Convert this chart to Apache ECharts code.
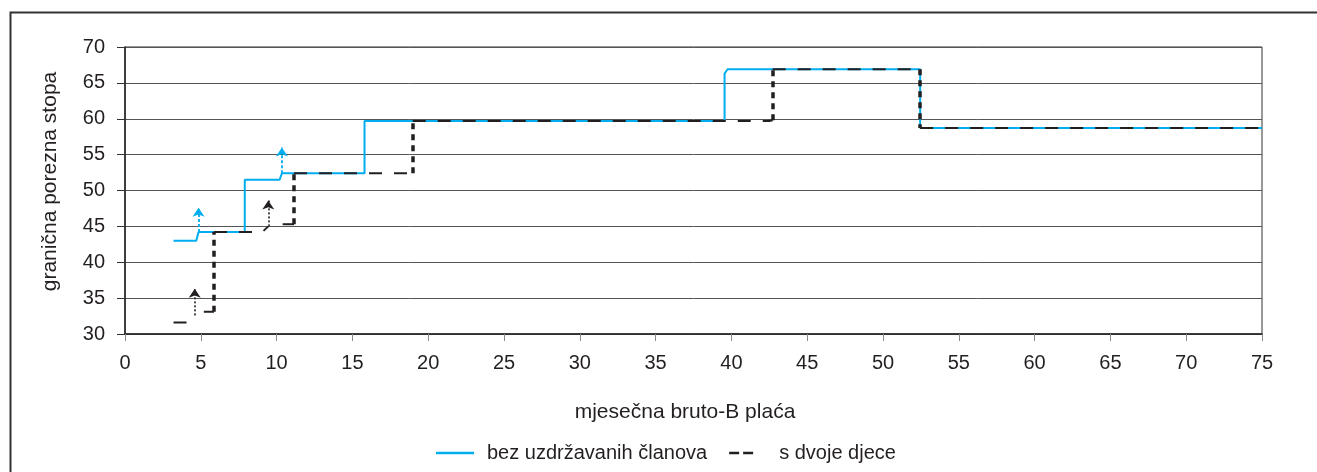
<!DOCTYPE html>
<html><head><meta charset="utf-8">
<script src="https://cdn.jsdelivr.net/npm/echarts@6/dist/echarts.min.js"></script>
<style>html,body{margin:0;padding:0;background:#fff}#c{width:1317px;height:472px}</style>
</head><body><div id="c"></div>
<script>
// ---- data ----
const blueName = 'bez uzdržavanih članova';
const kidsName = 's dvoje djece';
const xAxisName = 'mjesečna bruto-B plaća';
const yAxisName = 'granična porezna stopa';

// bez uzdržavanih članova (step line)
const blueX = [3.2, 4.7, 4.85, 7.9, 7.9, 10.2, 10.35, 15.8, 15.8, 39.55, 39.55, 39.75, 52.45, 52.45, 75];
const blueY = [43.0, 43.0, 44.2, 44.2, 51.5, 51.5, 52.4, 52.4, 59.7, 59.7, 66.3, 66.9, 66.9, 58.7, 58.7];

// s dvoje djece: flat (dashed) pieces
const kidsFlatX = [[3.2, 4.3, 4.6], [5.2, 5.87], [5.87, 9.05, 9.45], [10.4, 11.15], [11.15, 18.98], [18.98, 42.5, 42.72], [42.72, 52.45], [52.45, 75]];
const kidsFlatY = [[31.6, 31.6, 32.6], [33.1, 33.1], [44.2, 44.2, 45.0], [45.3, 45.3], [52.4, 52.4], [59.7, 59.7, 59.8], [66.9, 66.9], [58.7, 58.7]];

// s dvoje djece: vertical jumps (thick dotted)
const jumpX = [5.87, 11.15, 18.98, 42.72, 52.45];
const jumpFromY = [33.1, 45.3, 52.4, 59.8, 66.9];
const jumpToY = [44.2, 52.4, 59.7, 66.9, 58.7];

// arrows
const kidsArrowX = [4.6, 9.45];
const kidsArrowFromY = [32.6, 45.0];
const kidsArrowToY = [36.3, 48.6];
const blueArrowX = [4.85, 10.35];
const blueArrowFromY = [44.2, 52.4];
const blueArrowToY = [47.6, 56.0];

// ---- chart ----
const FONT = '"Liberation Sans", Arial, Helvetica, sans-serif';
const TXT = '#231F20';
const BLUE = '#00AEEF';
const BLACK = '#231F20';

const chart = echarts.init(document.getElementById('c'), null, {renderer: 'canvas'});

const series = [];
series.push({
  name: blueName, type: 'line', symbol: 'none', z: 2,
  data: blueX.map((x, i) => [x, blueY[i]]),
  lineStyle: {color: BLUE, width: 2}, itemStyle: {color: BLUE}
});
kidsFlatX.forEach((xs, k) => {
  series.push({
    name: kidsName, type: 'line', symbol: 'none', z: 4,
    data: xs.map((x, i) => [x, kidsFlatY[k][i]]),
    lineStyle: {color: BLACK, width: 2, type: [13, 12]}, itemStyle: {color: BLACK}
  });
});
series.push({
  name: 'jumps', type: 'lines', coordinateSystem: 'cartesian2d', z: 5, symbol: 'none',
  data: jumpX.map((x, i) => ({coords: [[x, jumpFromY[i]], [x, jumpToY[i]]]})),
  lineStyle: {color: BLACK, width: 3.5, type: [6, 5], opacity: 1}
});
series.push({
  name: 'kidsArrows', type: 'lines', coordinateSystem: 'cartesian2d', z: 5,
  symbol: ['none', 'arrow'], symbolSize: 9,
  data: kidsArrowX.map((x, i) => ({coords: [[x, kidsArrowFromY[i]], [x, kidsArrowToY[i]]]})),
  lineStyle: {color: BLACK, width: 1.6, type: [2, 2], opacity: 1}
});
series.push({
  name: 'blueArrows', type: 'lines', coordinateSystem: 'cartesian2d', z: 5,
  symbol: ['none', 'arrow'], symbolSize: 9,
  data: blueArrowX.map((x, i) => ({coords: [[x, blueArrowFromY[i]], [x, blueArrowToY[i]]]})),
  lineStyle: {color: BLUE, width: 1.8, type: [3, 2], opacity: 1}
});

chart.setOption({
  animation: false,
  backgroundColor: '#fff',
  textStyle: {fontFamily: FONT, color: TXT},
  graphic: [{
    type: 'rect', left: 8, top: 10, shape: {x: 0, y: 0, width: 1400, height: 500},
    style: {fill: 'none', stroke: '#333', lineWidth: 2}, silent: true, z: -10
  }],
  grid: {left: 125, right: 55, top: 47, bottom: 138, show: true, borderColor: '#333', borderWidth: 1, backgroundColor: 'transparent'},
  legend: {
    top: 438, left: 431, itemWidth: 38, itemHeight: 2.5, itemGap: 21,
    symbolKeepAspect: true,
    textStyle: {fontSize: 20, color: TXT, fontFamily: FONT, padding: [0, 0, 0, 8]},
    itemStyle: {borderWidth: 0},
    data: [
      {name: blueName, icon: 'path://M0,0H38V2.5H0Z'},
      {name: kidsName, icon: 'path://M0,0V2.5 M1,0H11V2.5H1Z M15,0H25V2.5H15Z M38,0V2.5'}
    ],
    selectedMode: false
  },
  xAxis: {
    type: 'value', min: 0, max: 75, interval: 5,
    name: xAxisName, nameLocation: 'middle', nameGap: 68,
    nameTextStyle: {fontSize: 21, color: TXT, fontFamily: FONT, padding: [0, 17, 0, 0]},
    axisLine: {show: true, lineStyle: {color: '#222', width: 1.5}},
    axisTick: {show: true, length: 7, lineStyle: {color: '#888', width: 1}},
    axisLabel: {fontSize: 20, color: TXT, margin: 19, fontFamily: FONT},
    splitLine: {show: false}
  },
  yAxis: {
    type: 'value', min: 30, max: 70, interval: 5,
    name: yAxisName, nameLocation: 'middle', nameGap: 64,
    nameTextStyle: {fontSize: 21, color: TXT, fontFamily: FONT, padding: [0, 0, 0, 18]},
    axisLine: {show: true, lineStyle: {color: '#222', width: 1.5}},
    axisTick: {show: true, length: 8, lineStyle: {color: '#333', width: 1}},
    axisLabel: {fontSize: 20, color: TXT, margin: 20, fontFamily: FONT},
    splitLine: {show: true, lineStyle: {color: '#555', width: 1}}
  },
  series: series
});
</script>
</body></html>
